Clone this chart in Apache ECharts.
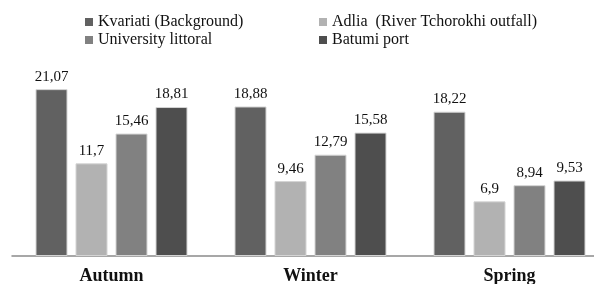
<!DOCTYPE html>
<html>
<head>
<meta charset="utf-8">
<script src="https://cdn.jsdelivr.net/npm/echarts@6/dist/echarts.min.js"></script>
<style>
  html, body { margin: 0; padding: 0; background: #fff; }
  #chart { width: 594px; height: 284px; }
</style>
</head>
<body>
<div id="chart"></div>
<script>
const seasons = ['Autumn', 'Winter', 'Spring'];

const kvariati = [21.07, 18.88, 18.22];
const adlia = [11.7, 9.46, 6.9];
const university = [15.46, 12.79, 8.94];
const batumi = [18.81, 15.58, 9.53];

const seriesNames = [
  'Kvariati (Background)',
  'Adlia  (River Tchorokhi outfall)',
  'University littoral',
  'Batumi port',
];

const colorIndex = ['#616161', '#b2b2b2', '#818181', '#4e4e4e'];
const serif = '"Liberation Serif", "DejaVu Serif", serif';

const commonBarOptions = {
  type: 'bar',
  barWidth: 32,
  barGap: '25%',
  label: {
    show: true,
    position: 'top',
    distance: 5,
    color: '#111',
    fontFamily: serif,
    fontSize: 15,
    formatter: function (params) {
      return String(params.value).replace('.', ',');
    },
  },
};

const legendCommon = {
  orient: 'vertical',
  top: 9,
  itemGap: 2,
  itemWidth: 8,
  itemHeight: 8,
  icon: 'rect',
  itemStyle: { borderWidth: 0 },
  textStyle: {
    color: '#111',
    fontFamily: serif,
    fontSize: 16,
    lineHeight: 16,
  },
};

function buildChart() {
  const chart = echarts.init(document.getElementById('chart'), null, { renderer: 'canvas' });

  const values = [kvariati, adlia, university, batumi];

  chart.setOption({
    animation: false,
    backgroundColor: '#fff',
    legend: [
      { ...legendCommon, left: 80, data: [seriesNames[0], seriesNames[2]] },
      { ...legendCommon, left: 314, data: [seriesNames[1], seriesNames[3]] },
    ],
    grid: {
      left: 12,
      top: 58,
      width: 597,
      height: 198,
      outerBoundsMode: 'none',
    },
    xAxis: {
      type: 'category',
      data: seasons,
      axisLine: { lineStyle: { color: '#8a8a8a', width: 1.5 } },
      axisTick: { show: false },
      axisLabel: {
        margin: 11,
        color: '#111',
        fontFamily: serif,
        fontWeight: 'bold',
        fontSize: 18,
      },
    },
    yAxis: {
      type: 'value',
      min: 0,
      max: 25,
      show: false,
      splitLine: { show: false },
    },
    series: seriesNames.map((name, index) => ({
      name: name,
      data: values[index],
      itemStyle: {
        color: colorIndex[index],
        borderColor: '#d4d4d4',
        borderWidth: 1,
      },
      ...commonBarOptions,
    })),
  });

  return chart;
}

buildChart();
</script>
</body>
</html>
